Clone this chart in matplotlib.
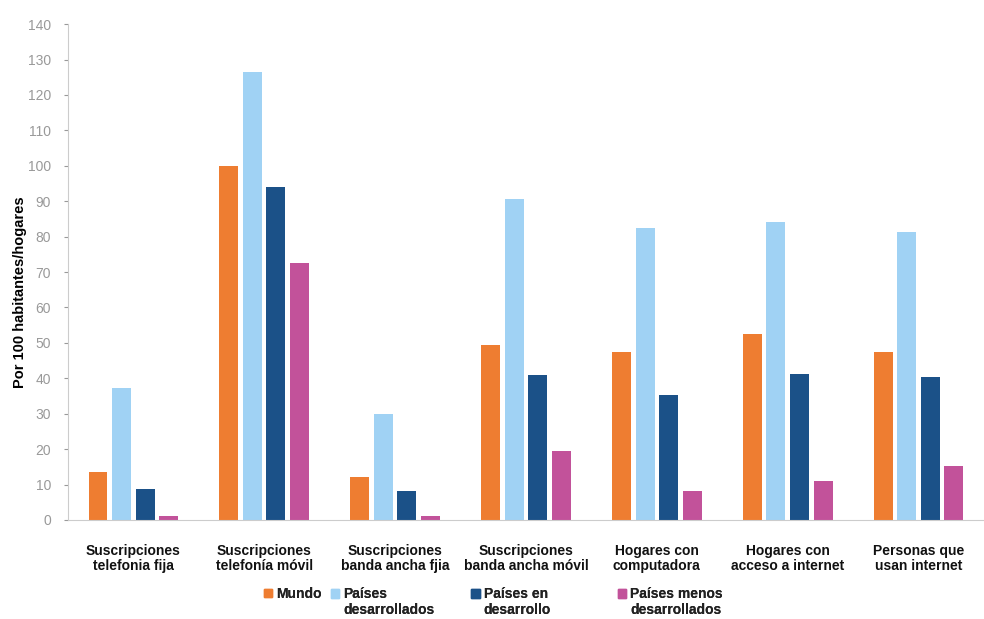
import numpy as np
import matplotlib.pyplot as plt
from matplotlib.patches import Patch, Rectangle
from matplotlib.legend_handler import HandlerPatch

categories = [
    "Suscripciones\ntelefonia fija",
    "Suscripciones\ntelefonía móvil",
    "Suscripciones\nbanda ancha fjia",
    "Suscripciones\nbanda ancha móvil",
    "Hogares con\ncomputadora",
    "Hogares con\nacceso a internet",
    "Personas que\nusan internet",
]
mundo = [13.5, 100, 12, 49.5, 47.3, 52.5, 47.3]
desarrollados = [37.3, 126.5, 30, 90.5, 82.5, 84, 81.3]
en_desarrollo = [8.7, 94, 8.3, 41, 35.2, 41.3, 40.3]
menos_desarrollados = [1.1, 72.5, 1, 19.5, 8.1, 11, 15.3]

series_labels = ["Mundo", "Países\ndesarrollados", "Países en\ndesarrollo",
                 "Países menos\ndesarrollados"]
colors = ["#EE7D31", "#A0D2F4", "#1B5188", "#C2529A"]

plt.rcParams["font.family"] = ["Liberation Sans", "DejaVu Sans"]

fig = plt.figure(figsize=(9.84, 6.19), dpi=100)
ax = fig.add_axes([0.069, 0.16, 0.931, 0.801])

x = np.arange(len(categories))
width = 0.145
pitch = 0.18
series = [mundo, desarrollados, en_desarrollo, menos_desarrollados]
for i, (vals, col) in enumerate(zip(series, colors)):
    ax.bar(x + (i - 1.5) * pitch, vals, width, color=col, zorder=2)

ax.set_xlim(-0.5, len(categories) - 0.5)
ax.set_ylim(0, 140)
ax.set_yticks(range(0, 141, 10))
ax.tick_params(axis="y", labelsize=10, colors="#999999", length=3, pad=9)
ax.set_xticks(x)
ax.set_xticklabels(categories, fontsize=10, fontweight="bold", color="#111111",
                   linespacing=1.15)
ax.tick_params(axis="x", length=0, pad=17)

for s in ["top", "right"]:
    ax.spines[s].set_visible(False)
ax.spines["left"].set_color("#cccccc")
ax.spines["bottom"].set_color("#cccccc")

ax.set_ylabel("Por 100 habitantes/hogares", fontsize=10.5, fontweight="bold")
ax.yaxis.set_label_coords(-0.045, 0.46)


def top_aligned(shift):
    # keep the square level with the first line of a two-line label
    def make(legend, orig_handle, xdescent, ydescent, width, height, fontsize):
        return Rectangle((-xdescent, -ydescent + shift), width, height)
    return HandlerPatch(patch_func=make)


# legend entries placed individually, like the original layout
leg_x = [0.268, 0.336, 0.479, 0.628]
for lab, col, lx in zip(series_labels, colors, leg_x):
    shift = 6.2 if "\n" in lab else 0
    leg = fig.legend(handles=[Patch(color=col)], labels=[lab], loc="upper left",
                     bbox_to_anchor=(lx, 0.052), frameon=False,
                     handlelength=0.6, handleheight=0.6, handletextpad=0.3,
                     borderpad=0, borderaxespad=0,
                     handler_map={Patch: top_aligned(shift)},
                     prop={"size": 10, "weight": "bold"})
    for t in leg.get_texts():
        t.set_color("#222222")
    fig.add_artist(leg)

fig.savefig("out.png", dpi=100)
